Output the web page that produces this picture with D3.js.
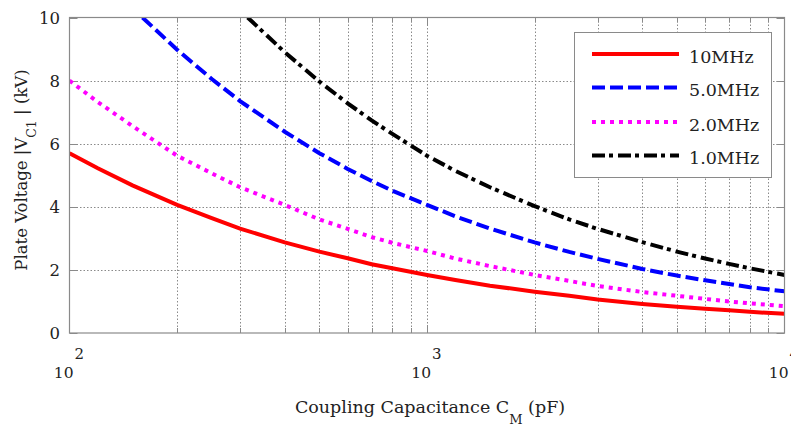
<!DOCTYPE html>
<html>
<head>
<meta charset="utf-8">
<script src="https://cdn.jsdelivr.net/npm/d3@7"></script>
<style>
  body { margin: 0; background: #fff; }
  text { font-family: "DejaVu Serif", serif; fill: #222; }
</style>
</head>
<body>
<svg id="chart" width="791" height="426"></svg>
<script>
// coupling capacitance (pF) sample points
var capAll = [100, 120, 150, 200, 250, 300, 400, 500, 600, 700, 800, 1000, 1200, 1500, 2000, 2500, 3000, 4000, 5000, 6000, 7000, 8000, 10000];
var cap5MHz = [160, 200, 250, 300, 400, 500, 600, 700, 800, 1000, 1200, 1500, 2000, 2500, 3000, 4000, 5000, 6000, 7000, 8000, 10000];
var cap1MHz = [315, 400, 500, 600, 700, 800, 1000, 1200, 1500, 2000, 2500, 3000, 4000, 5000, 6000, 7000, 8000, 10000];

// plate voltage |Vc1| (kV)
var v10MHz = [5.70, 5.22, 4.68, 4.06, 3.64, 3.31, 2.87, 2.58, 2.37, 2.18, 2.05, 1.84, 1.68, 1.50, 1.31, 1.18, 1.06, 0.92, 0.83, 0.77, 0.72, 0.67, 0.61];
var v5MHz = [10.0, 8.98, 8.05, 7.35, 6.38, 5.70, 5.20, 4.82, 4.51, 4.06, 3.70, 3.31, 2.87, 2.57, 2.35, 2.03, 1.82, 1.67, 1.55, 1.45, 1.32];
var v2MHz = [8.00, 7.32, 6.56, 5.62, 5.06, 4.62, 4.06, 3.60, 3.30, 3.04, 2.86, 2.60, 2.36, 2.12, 1.84, 1.65, 1.49, 1.30, 1.18, 1.08, 1.00, 0.94, 0.85];
var v1MHz = [10.0, 8.90, 7.97, 7.28, 6.74, 6.31, 5.62, 5.14, 4.62, 4.02, 3.60, 3.30, 2.88, 2.58, 2.36, 2.19, 2.05, 1.84];

var seriesNames = ['10MHz', '5.0MHz', '2.0MHz', '1.0MHz'];
var xMajor = [100, 1000, 10000];
var xExp = ['2', '3', '4'];
var yTicks = [0, 2, 4, 6, 8, 10];

var series = [
  {name: seriesNames[0], x: capAll, y: v10MHz, color: '#ff0000', dash: null},
  {name: seriesNames[1], x: cap5MHz, y: v5MHz, color: '#0000ff', dash: '13,5'},
  {name: seriesNames[2], x: capAll, y: v2MHz, color: '#ff00ff', dash: '4,5'},
  {name: seriesNames[3], x: cap1MHz, y: v1MHz, color: '#000000', dash: '13,4,4,5'}
];

var L = 69.5, R = 784.5, T = 17.5, B = 333;
var svg = d3.select('#chart');

var x = d3.scaleLog().domain([100, 10000]).range([L, R]);
var y = d3.scaleLinear().domain([0, 10]).range([B, T]);

// minor decade ticks 200..900, 2000..9000
var xMinor = [];
[100, 1000].forEach(function(d) {
  for (var k = 2; k <= 9; k++) xMinor.push(d * k);
});

var grid = svg.append('g').attr('stroke', '#8a8a8a').attr('stroke-width', 1).attr('stroke-dasharray', '1.5,2');
grid.selectAll('.gx').data(xMinor.concat([1000])).enter().append('line')
  .attr('x1', function(d) { return Math.round(x(d)) + 0.5; })
  .attr('x2', function(d) { return Math.round(x(d)) + 0.5; })
  .attr('y1', T).attr('y2', B);
grid.selectAll('.gy').data([2, 4, 6, 8]).enter().append('line')
  .attr('x1', L).attr('x2', R)
  .attr('y1', function(d) { return Math.round(y(d)) + 0.5; })
  .attr('y2', function(d) { return Math.round(y(d)) + 0.5; });

// tick marks, inward on all sides
var ticks = svg.append('g').attr('stroke', '#8a8a8a').attr('stroke-width', 1);
function xTick(d, len) {
  var px = Math.round(x(d)) + 0.5;
  ticks.append('line').attr('x1', px).attr('x2', px).attr('y1', B).attr('y2', B - len);
  ticks.append('line').attr('x1', px).attr('x2', px).attr('y1', T).attr('y2', T + len);
}
xMinor.forEach(function(d) { xTick(d, 5); });
xTick(1000, 8);
yTicks.forEach(function(d) {
  var py = Math.round(y(d)) + 0.5;
  ticks.append('line').attr('x1', L).attr('x2', L + 8).attr('y1', py).attr('y2', py);
  ticks.append('line').attr('x1', R).attr('x2', R - 8).attr('y1', py).attr('y2', py);
});

svg.append('clipPath').attr('id', 'plotclip').append('rect')
  .attr('x', L).attr('y', T).attr('width', R - L).attr('height', B - T);

var line = d3.line()
  .x(function(d) { return x(d[0]); })
  .y(function(d) { return y(d[1]); });

svg.append('g').attr('clip-path', 'url(#plotclip)')
  .selectAll('path').data(series).enter().append('path')
  .attr('d', function(s) { return line(d3.zip(s.x, s.y)); })
  .attr('fill', 'none')
  .attr('stroke', function(s) { return s.color; })
  .attr('stroke-width', 4)
  .attr('stroke-dasharray', function(s) { return s.dash; });

svg.append('rect').attr('x', L).attr('y', T).attr('width', R - L).attr('height', B - T)
  .attr('fill', 'none').attr('stroke', '#8a8a8a').attr('stroke-width', 1.2);

// y tick labels
svg.selectAll('.ylab').data(yTicks).enter().append('text')
  .attr('x', 60).attr('y', function(d) { return y(d) + 6; })
  .attr('text-anchor', 'end').style('font-size', '16.5px')
  .text(function(d) { return d; });

// x tick labels 10^n
xMajor.forEach(function(d, i) {
  var px = x(d);
  svg.append('text').attr('x', px + 4).attr('y', 378)
    .attr('text-anchor', 'end').style('font-size', '15.5px').text('10');
  svg.append('text').attr('x', px + 5).attr('y', 359)
    .style('font-size', '15px').text(xExp[i]);
});

// axis titles
var xt = svg.append('text').attr('x', 430).attr('y', 413)
  .attr('text-anchor', 'middle').style('font-size', '17.5px');
xt.append('tspan').text('Coupling Capacitance C');
xt.append('tspan').attr('dy', 11).style('font-size', '13px').text('M');
xt.append('tspan').attr('dy', -11).text(' (pF)');

var yt = svg.append('text').attr('transform', 'translate(27,170) rotate(-90)')
  .attr('text-anchor', 'middle').style('font-size', '16.5px');
yt.append('tspan').text('Plate Voltage |V');
yt.append('tspan').attr('dy', 9).style('font-size', '12.5px').text('C1');
yt.append('tspan').attr('dy', -9).text(' | (kV)');

// legend
var lg = svg.append('g');
lg.append('rect').attr('x', 574.5).attr('y', 32.5).attr('width', 197).attr('height', 145)
  .attr('fill', '#fff').attr('stroke', '#8a8a8a').attr('stroke-width', 1);
var rowY = [54, 87.5, 122, 155.5];
series.forEach(function(s, i) {
  lg.append('line').attr('x1', 592).attr('x2', 679).attr('y1', rowY[i]).attr('y2', rowY[i])
    .attr('stroke', s.color).attr('stroke-width', 4)
    .attr('stroke-dasharray', s.dash);
  lg.append('text').attr('x', 689).attr('y', rowY[i] + 8.5)
    .style('font-size', '17.5px').text(s.name);
});
</script>
</body>
</html>
